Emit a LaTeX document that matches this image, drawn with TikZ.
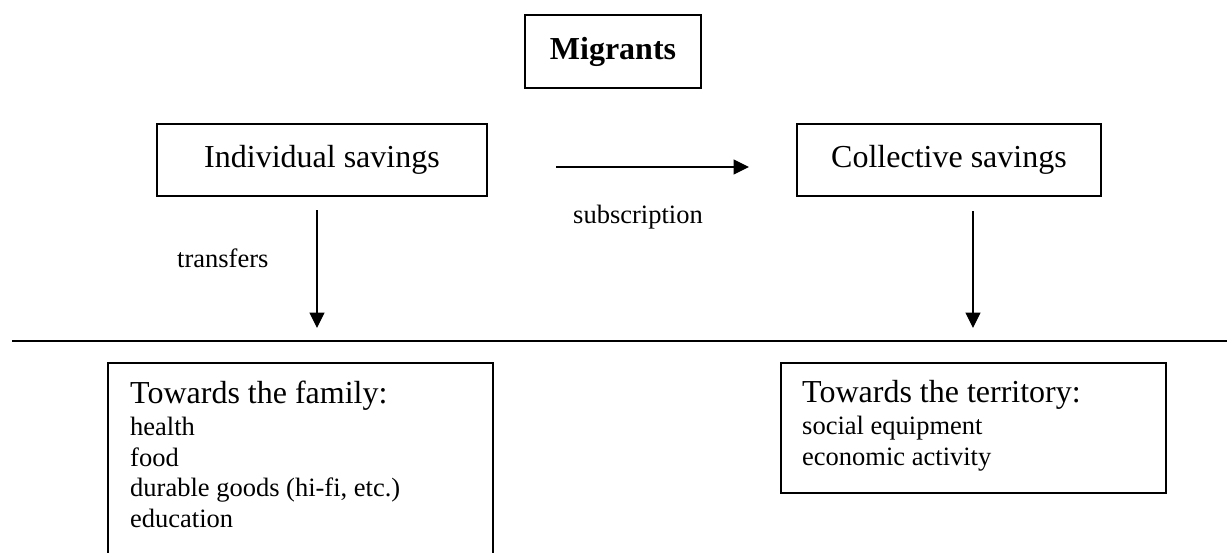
\documentclass[tikz,border=0pt]{standalone}
\usepackage{fontspec}
\setmainfont{Liberation Serif}
\usetikzlibrary{arrows.meta}
\begin{document}
\begin{tikzpicture}[x=1pt,y=-1pt,
  box/.style={draw, line width=1.5pt, inner sep=0pt, minimum height=72pt},
  bigtext/.style={font=\fontsize{32}{36}\selectfont},
  smalltext/.style={font=\fontsize{26.5}{31}\selectfont, anchor=base west, inner sep=0pt},
  headtext/.style={font=\fontsize{32}{36}\selectfont, anchor=base west, inner sep=0pt},
  arr/.style={line width=1.2pt, -{Triangle[length=15.5pt,width=15pt]}}]
\useasboundingbox (0,0) rectangle (1227,552);
% top boxes
\node[box, minimum width=176pt, minimum height=73pt, font=\bfseries\fontsize{32}{36}\selectfont] (mig) at (613,51.5) {Migrants};
\node[box, minimum width=330pt, bigtext] (ind) at (322,160) {Individual savings};
\node[box, minimum width=304pt, bigtext] (col) at (949,160) {Collective savings};
% subscription arrow
\coordinate (s1) at (556,167);
\coordinate (s2) at (749,167);
\draw[arr] (s1) -- (s2);
\node[smalltext] (sub) at (573,223) {subscription};
% down arrows
\coordinate (l1) at (317,210);
\coordinate (l2) at (317,328);
\draw[arr] (l1) -- (l2);
\node[smalltext] (tra) at (177,267) {transfers};
\coordinate (r1) at (973,211);
\coordinate (r2) at (973,328);
\draw[arr] (r1) -- (r2);
% horizontal rule
\coordinate (h1) at (12,341);
\coordinate (h2) at (1240,341);
\draw[line width=2pt] (h1) -- (h2);
% family box
\draw[line width=1.5pt] (108,363) rectangle (493,620);
\node[headtext] (famh) at (130,403) {Towards the family:};
\node[smalltext] (f1) at (130,435) {health};
\node[smalltext] (f2) at (130,466) {food};
\node[smalltext] (f3) at (130,496) {durable goods (hi-fi, etc.)};
\node[smalltext] (f4) at (130,527) {education};
% territory box
\draw[line width=1.5pt] (781,363) rectangle (1166,493);
\node[headtext] (terh) at (802,402) {Towards the territory:};
\node[smalltext] (t1) at (802,434) {social equipment};
\node[smalltext] (t2) at (802,465) {economic activity};
\end{tikzpicture}
\end{document}
